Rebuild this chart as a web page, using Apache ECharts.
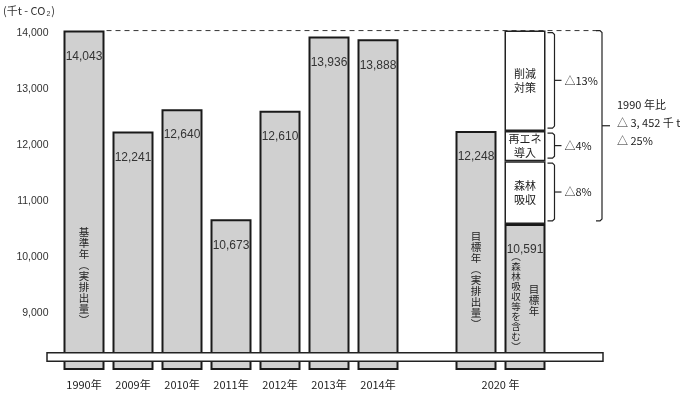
<!DOCTYPE html>
<html><head><meta charset="utf-8">
<script src="https://cdn.jsdelivr.net/npm/echarts@6/dist/echarts.min.js"></script>
<style>html,body{margin:0;padding:0;background:#fff}#c{width:680px;height:394px}</style>
</head><body><div id="c"></div>
<script>
// Emissions by year (thousand t-CO2); index 7 is an empty spacer slot
const categories = ['1990年','2009年','2010年','2011年','2012年','2013年','2014年','','2020年実績','2020年目標'];
const axisLabels = ['1990年','2009年','2010年','2011年','2012年','2013年','2014年','','2020 年',''];
const emissions = [14043, 12241, 12640, 10673, 12610, 13936, 13888, '-', 12248, 10591];

// Reduction breakdown stacked on the 2020 target bar (bottom to top)
const cutValues = [1121, 536, 1795];
const cutNames = ['森林\n吸収', '再エネ\n導入', '削減\n対策'];
const cutShares = ['△8%', '△4%', '△13%'];
const totalNote = ['1990 年比', '△ 3, 452 千 t', '△ 25%'];

const yTicks = [9000, 10000, 11000, 12000, 13000, 14000];

const FONT = '"Liberation Sans","Noto Sans CJK JP",sans-serif';
const CJK = '"Noto Sans CJK JP","Liberation Sans",sans-serif';
const TARGET = 9, ACTUAL = 8, BASE = 0;

const chart = echarts.init(document.getElementById('c'));

const stackSeries = cutValues.map((v, k) => ({
  type: 'bar', stack: 'total', barWidth: 41,
  data: categories.map((_, i) => i === TARGET ? v : '-'),
  itemStyle: { color: '#fff', borderColor: '#222', borderWidth: 1.5 },
  label: { show: true, position: 'inside', formatter: cutNames[k],
    fontFamily: CJK, fontSize: 11, lineHeight: 14, color: '#222' },
  silent: true
}));

chart.setOption({
  animation: false,
  backgroundColor: '#fff',
  grid: { left: 59.5, right: 130.5, top: 21.8, bottom: 25 },
  xAxis: {
    type: 'category', data: categories,
    axisLine: { show: false }, axisTick: { show: false },
    axisLabel: {
      interval: 0, margin: 10, fontFamily: CJK, fontSize: 11, color: '#222',
      formatter: (v, i) => i === ACTUAL ? '{r|' + axisLabels[i] + '}' : axisLabels[i],
      rich: { r: { fontFamily: CJK, fontSize: 11, color: '#222', padding: [0, 0, 0, 49] } }
    }
  },
  yAxis: {
    type: 'value', min: 8000, max: 14200, interval: 1000,
    axisLine: { show: false }, axisTick: { show: false }, splitLine: { show: false },
    axisLabel: {
      margin: 11, fontFamily: FONT, fontSize: 10.5, color: '#333',
      formatter: v => yTicks.includes(v) ? v.toLocaleString('en-US') : ''
    }
  },
  series: [{
    type: 'bar', stack: 'total', barWidth: 41, data: emissions,
    itemStyle: { color: '#d0d0d0', borderColor: '#1a1a1a', borderWidth: 2 },
    label: { show: true, position: 'insideTop', distance: 20,
      formatter: p => Number(p.value).toLocaleString('en-US'),
      fontFamily: FONT, fontSize: 12, color: '#333' },
    silent: true
  }].concat(stackSeries)
});

// Annotations placed through the axes' own scales
const px = (i, v) => chart.convertToPixel({ gridIndex: 0 }, [i, v]);
const half = 20.5;
const g = [];

// baseline reference from 1990
const yBase = px(BASE, emissions[BASE])[1];
g.push({ type: 'line', z: 100, shape: { x1: px(BASE, 0)[0] + half + 2, y1: yBase, x2: 597, y2: yBase },
  style: { stroke: '#333', lineWidth: 1, lineDash: [5, 4] } });

// axis break band
const yb1 = px(0, 8290)[1], yb2 = px(0, 8140)[1];
g.push({ type: 'rect', z: 100, shape: { x: 47, y: yb1, width: 556, height: yb2 - yb1 },
  style: { fill: '#fff', stroke: '#222', lineWidth: 1.5 } });

// vertical captions inside bars
function vtext(x, y, s, fs, lh) {
  g.push({ type: 'text', z: 101, x: x, y: y,
    style: { text: s.split('').join('\n'), fontFamily: CJK, fontSize: fs, lineHeight: lh,
      fill: '#222', align: 'center', verticalAlign: 'middle' } });
}
vtext(px(BASE, 0)[0], px(BASE, 9660)[1], '基準年︵実排出量︶', 10.5, 11);
vtext(px(ACTUAL, 0)[0], px(ACTUAL, 9590)[1], '目標年︵実排出量︶', 10.5, 11);
vtext(px(TARGET, 0)[0] - 9, px(TARGET, 9200)[1], '︵森林吸収等を含む︶', 9.5, 10);
vtext(px(TARGET, 0)[0] + 9, px(TARGET, 9230)[1], '目標年', 10.5, 11);

// braces
function brace(xv, yTop, yBot, hook, tick) {
  const ym = (yTop + yBot) / 2;
  g.push({ type: 'polyline', z: 100, shape: { points: [
      [xv - hook, yTop], [xv - 2, yTop], [xv, yTop + 2], [xv, yBot - 2], [xv - 2, yBot], [xv - hook, yBot]] },
    style: { stroke: '#222', lineWidth: 1.2, fill: null } });
  g.push({ type: 'line', z: 100, shape: { x1: xv, y1: ym, x2: xv + tick, y2: ym },
    style: { stroke: '#222', lineWidth: 1.2 } });
  return ym;
}
const xStack = px(TARGET, 0)[0] + half;
let acc = emissions[TARGET];
cutValues.forEach((v, k) => {
  const yLo = px(TARGET, acc)[1], yHi = px(TARGET, acc + v)[1];
  const ym = brace(xStack + 9, yHi + 2, yLo - 3, 7, 7);
  g.push({ type: 'text', z: 101, x: xStack + 19, y: ym,
    style: { text: cutShares[k], fontFamily: CJK, fontSize: 11, fill: '#222', verticalAlign: 'middle' } });
  acc += v;
});
const ymBig = brace(602, yBase, px(TARGET, emissions[TARGET])[1] - 3, 6, 8);
g.push({ type: 'text', z: 101, x: 617, y: ymBig - 3,
  style: { text: totalNote.join('\n'), fontFamily: CJK, fontSize: 11, lineHeight: 18,
    fill: '#222', verticalAlign: 'middle' } });

// unit label
g.push({ type: 'text', z: 101, x: 3, y: 11,
  style: { text: '(千t - CO{s|2})', fontFamily: CJK, fontSize: 11, fill: '#333', verticalAlign: 'middle',
    rich: { s: { fontSize: 7, fontFamily: FONT, padding: [7, 1, 0, 1], fill: '#333' } } } });

chart.setOption({ graphic: g });
</script></body></html>
